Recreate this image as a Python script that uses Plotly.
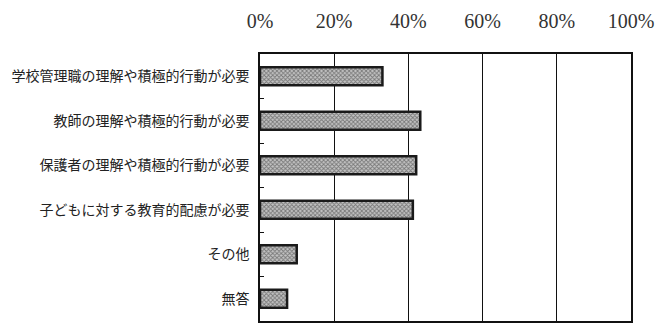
import plotly.graph_objects as go

categories = [
    "学校管理職の理解や積極的行動が必要",
    "教師の理解や積極的行動が必要",
    "保護者の理解や積極的行動が必要",
    "子どもに対する教育的配慮が必要",
    "その他",
    "無答",
]
values = [33.0, 43.2, 42.1, 41.2, 9.9, 7.3]
tick_vals = [0, 20, 40, 60, 80, 100]
tick_text = ["0%", "20%", "40%", "60%", "80%", "100%"]

fig = go.Figure(
    go.Bar(
        x=values,
        y=categories,
        orientation="h",
        width=0.4,
        marker=dict(
            color="#999999",
            line=dict(color="#1a1a1a", width=2.5),
            pattern=dict(shape="x", size=3, solidity=0.5, fgcolor="#2a2a2a", bgcolor="#c4c4c4"),
        ),
        hoverinfo="skip",
    )
)

fig.update_layout(
    width=659,
    height=325,
    margin=dict(l=260, r=28, t=54, b=2),
    paper_bgcolor="white",
    plot_bgcolor="white",
    showlegend=False,
    bargap=0.6,
)

fig.update_xaxes(
    range=[0, 100],
    side="top",
    tickvals=tick_vals,
    ticktext=tick_text,
    tickfont=dict(family="Liberation Serif", size=20, color="#333333"),
    showgrid=True,
    gridcolor="#111111",
    gridwidth=1,
    showline=True,
    linecolor="#111111",
    linewidth=1.5,
    mirror=True,
    ticks="",
    ticklabelstandoff=16,
    zeroline=False,
    fixedrange=True,
)

fig.update_yaxes(
    categoryorder="array",
    categoryarray=categories,
    autorange="reversed",
    tickfont=dict(family="Noto Sans CJK JP", size=14, color="#222222"),
    showline=True,
    linecolor="#111111",
    linewidth=1.5,
    mirror=True,
    ticks="inside",
    ticklen=4,
    tickcolor="#111111",
    tickson="boundaries",
    ticklabelstandoff=6,
    showgrid=False,
    fixedrange=True,
)

fig.write_html("out.html")
